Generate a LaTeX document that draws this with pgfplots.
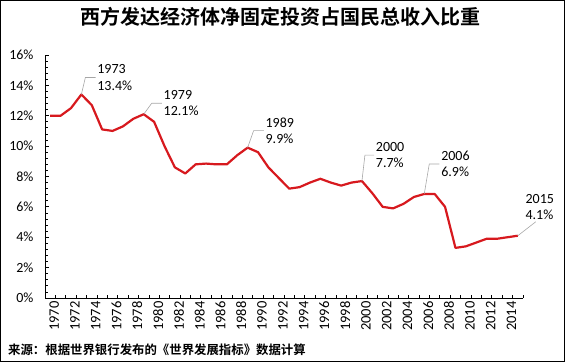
\documentclass[border=0pt]{standalone}
\usepackage{pgfplots}
\pgfplotsset{compat=1.18}
\usepackage{fontspec}
\setmainfont{Carlito}
\newfontfamily\cjk{Noto Sans CJK SC Bold}
\newfontfamily\cjkb{Noto Sans CJK SC Bold}
\definecolor{lred}{RGB}{215,25,30}
\begin{document}
\begin{tikzpicture}
\begin{axis}[
  scale only axis, width=478pt, height=243pt,
  xmin=-0.5, xmax=45.5, ymin=0, ymax=16,
  axis x line*=bottom, axis y line*=left,
  clip=false,
  /pgf/number format/assume math mode=true,
  xtick={0,2,...,44},
  xticklabels={1970,1972,1974,1976,1978,1980,1982,1984,1986,1988,1990,1992,1994,1996,1998,2000,2002,2004,2006,2008,2010,2012,2014},
  major x tick style={draw=none},
  minor xtick={-0.5,0.5,...,45.5},
  ytick={0,2,...,16},
  minor y tick num=4,
  yticklabel={\pgfmathprintnumber{\tick}\%},
  tick align=inside,
  major tick length=4pt, minor tick length=3pt,
  tick style={black, line width=0.8pt},
  axis line style={black, line width=0.8pt},
  every tick label/.append style={font=\fontsize{14}{14}\selectfont, text=black},
  xticklabel style={rotate=90, anchor=east, font=\fontsize{14.5}{14}\selectfont, yshift=-4pt},
  yticklabel style={xshift=-8pt},
]
\addplot[lred, line width=2.2pt, line join=round] coordinates {
(0,12.0)(1,12.0)(2,12.5)(3,13.4)(4,12.7)(5,11.1)(6,11.0)
(7,11.3)(8,11.8)(9,12.1)(10,11.6)(11,10.0)(12,8.6)(13,8.2)
(14,8.8)(15,8.85)(16,8.8)(17,8.8)(18,9.4)(19,9.9)(20,9.6)
(21,8.6)(22,7.9)(23,7.2)(24,7.3)(25,7.6)(26,7.85)(27,7.6)
(28,7.4)(29,7.6)(30,7.7)(31,6.9)(32,6.0)(33,5.9)(34,6.2)
(35,6.65)(36,6.85)(37,6.85)(38,6.0)(39,3.3)(40,3.4)(41,3.65)
(42,3.9)(43,3.9)(44,4.0)(45,4.1)
};
\tikzset{lab/.style={anchor=west, align=left, inner sep=1.5pt, text=black, font=\fontsize{14}{16.5}\selectfont}}
\draw[gray!70, line width=0.6pt] (axis cs:3,13.4) -- ++(4pt,17pt) -- ++(5pt,0) node[lab]{1973\\13.4\%};
\draw[gray!70, line width=0.6pt] (axis cs:9,12.1) -- ++(8pt,11pt) -- ++(5pt,0) node[lab]{1979\\12.1\%};
\draw[gray!70, line width=0.6pt] (axis cs:19,9.9) -- ++(6pt,17pt) -- ++(5pt,0) node[lab]{1989\\9.9\%};
\draw[gray!70, line width=0.6pt] (axis cs:30,7.7) -- ++(3pt,26pt) -- ++(4pt,0) node[lab]{2000\\7.7\%};
\draw[gray!70, line width=0.6pt] (axis cs:36,6.85) -- ++(5pt,30pt) -- ++(5pt,0) node[lab]{2006\\6.9\%};
\draw[gray!70, line width=0.6pt] (axis cs:45,4.1) -- ++(18pt,14pt) node[anchor=south west, align=left, inner sep=1.5pt, text=black, font=\fontsize{14}{16.5}\selectfont, xshift=-12pt]{2015\\4.1\%};
\node[font=\cjk\fontsize{20}{24}\selectfont, anchor=center] at ([xshift=-3pt,yshift=38pt]rel axis cs:0.5,1) {西方发达经济体净固定投资占国民总收入比重};
\node[font=\cjkb\fontsize{12.4}{14}\selectfont, anchor=west, inner sep=0pt] at ([xshift=-37pt,yshift=-52pt]rel axis cs:0,0) {来源：根据世界银行发布的《世界发展指标》数据计算};
\draw[black, line width=1pt] ([xshift=-44pt,yshift=-64pt]rel axis cs:0,0) rectangle ([xshift=41pt,yshift=54pt]rel axis cs:1,1);
\path ([xshift=-45pt,yshift=-65pt]rel axis cs:0,0) rectangle ([xshift=42pt,yshift=55pt]rel axis cs:1,1);
\end{axis}
\end{tikzpicture}
\end{document}
